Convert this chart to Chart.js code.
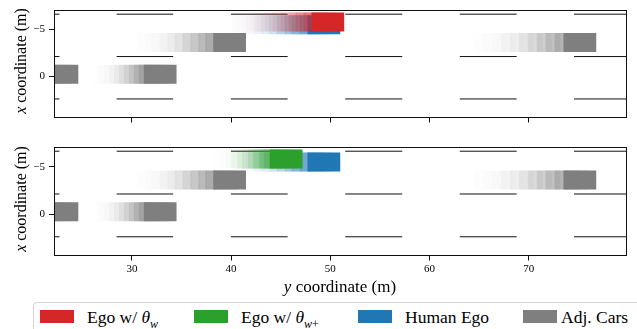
<!DOCTYPE html>
<html>
<head>
<meta charset="utf-8">
<script src="https://cdn.jsdelivr.net/npm/chart.js@4.4.0/dist/chart.umd.min.js"></script>
<style>
  html, body { margin: 0; padding: 0; background: #fff; font-family: 'Liberation Serif', serif; }
  #wrap { position: relative; width: 637px; height: 329px; overflow: hidden; color: #000; }
  canvas { position: absolute; left: 0; }
  .ytitle { position: absolute; left: 21px; font-family: 'Liberation Serif', serif; font-size: 16px; white-space: nowrap;
            transform: translate(-50%, -50%) rotate(-90deg); }
  .xtitle { position: absolute; left: 340px; top: 287px; font-family: 'Liberation Serif', serif; font-size: 17px;
            white-space: nowrap; transform: translate(-50%, -50%); }
  .legend { position: absolute; left: 33px; top: 302px; width: 640px; height: 40px;
            border: 1px solid #d4d4d4; border-radius: 4px; background: #fff; }
  .patch { position: absolute; top: 310px; width: 34px; height: 13px; }
  .lab { position: absolute; top: 306px; font-family: 'Liberation Serif', serif; font-size: 17.5px;
         line-height: 22px; white-space: nowrap; }
</style>
</head>
<body>
<div id="wrap">
  <canvas id="top" width="637" height="130" style="top:0"></canvas>
  <canvas id="bottom" width="637" height="145" style="top:137px"></canvas>
  <div class="ytitle" style="top:61px"><i>x</i> coordinate (m)</div>
  <div class="ytitle" style="top:199px"><i>x</i> coordinate (m)</div>
  <div class="xtitle"><i>y</i> coordinate (m)</div>
  <div class="legend"></div>
  <div class="patch" style="left:40px;background:#d62728"></div>
  <div class="lab" style="left:87px">Ego w/ <i>θ</i><sub style="font-size:12px"><i>w</i></sub></div>
  <div class="patch" style="left:194px;background:#2ca02c"></div>
  <div class="lab" style="left:241px">Ego w/ <i>θ</i><sub style="font-size:12px"><i>w</i>+</sub></div>
  <div class="patch" style="left:358px;background:#1f77b4"></div>
  <div class="lab" style="left:405px">Human Ego</div>
  <div class="patch" style="left:523px;background:#7f7f7f"></div>
  <div class="lab" style="left:561px">Adj. Cars</div>
</div>
<script>
// axes
const xTickValues = [30, 40, 50, 60, 70];
const yTickValues = [-5, 0];

// dashed lane markings (x coordinate of each line, y range of each dash)
const laneLineX = [-6.62, -2.12, 2.38];
const dashStart = [17.0, 28.46, 39.98, 51.5, 63.05, 74.56];
const dashEnd = [22.7, 34.16, 45.7, 57.25, 68.78, 80.3];

const carLength = 3.3;

// rear end (y coordinate) of every car at each recorded step, oldest first, last = now
const adjCarLanes = [-0.24, -0.24, -3.6, -3.6];
const adjCarSteps = [
  [14.6, 15.3, 16.0, 16.6, 17.3, 18.0, 18.6, 19.3, 20.0, 20.6, 21.3],
  [26.2, 26.7, 27.2, 27.7, 28.2, 28.7, 29.2, 29.7, 30.2, 30.7, 31.2],
  [30.5, 31.3, 32.0, 32.8, 33.6, 34.3, 35.1, 35.9, 36.7, 37.4, 38.2],
  [64.5, 65.4, 66.3, 67.2, 68.1, 69.0, 69.9, 70.8, 71.7, 72.6, 73.5]
];
const humanEgoLane = -5.49;
const humanEgoSteps = [39.9, 40.7, 41.5, 42.3, 43.0, 43.8, 44.6, 45.4, 46.1, 46.9, 47.7];
const egoWLane = -5.78;
const egoWSteps = [40.3, 41.1, 41.9, 42.6, 43.4, 44.2, 45.0, 45.8, 46.5, 47.3, 48.1];
const egoWPlusLane = -5.8;
const egoWPlusSteps = [38.3, 38.9, 39.4, 40.0, 40.6, 41.1, 41.7, 42.2, 42.8, 43.3, 43.9];

const FONT = "'Liberation Serif', serif";

// older steps fade out
function stepAlpha(k, n) {
  if (k === n - 1) return 1;
  const f = k / (n - 2);
  return 0.01 + 0.3 * f * f;
}

function carDatasets(stepsList, lanes, rgb) {
  const n = stepsList[0].length;
  const out = [];
  for (let k = 0; k < n; k++) {
    out.push({
      type: 'bar',
      indexAxis: 'y',
      grouped: false,
      barThickness: 19,
      inflateAmount: 0,
      borderWidth: 0,
      backgroundColor: 'rgba(' + rgb + ',' + stepAlpha(k, n) + ')',
      data: stepsList.map((s, i) => ({ x: [s[k], s[k] + carLength], y: lanes[i] }))
    });
  }
  return out;
}

function laneDatasets() {
  const out = [];
  laneLineX.forEach(lx => {
    dashStart.forEach((d, i) => {
      out.push({
        type: 'line',
        data: [{ x: d, y: lx }, { x: dashEnd[i], y: lx }],
        borderColor: '#111',
        borderWidth: 1,
        pointRadius: 0,
        fill: false
      });
    });
  });
  return out;
}

const frame = {
  id: 'frame',
  afterDatasetsDraw(chart) {
    const a = chart.chartArea;
    const ctx = chart.ctx;
    ctx.save();
    ctx.strokeStyle = '#111';
    ctx.lineWidth = 1;
    const l = Math.floor(a.left) + 0.5, t = Math.floor(a.top) + 0.5;
    const r = Math.floor(a.right) + 0.5, b = Math.floor(a.bottom) + 0.5;
    ctx.strokeRect(l, t, r - l, b - t);
    ctx.restore();
  }
};

function makePanel(id, egoSteps, egoLane, egoRgb, showLabels, padding, xHeight) {
  let datasets = [].concat(
    laneDatasets(),
    carDatasets(adjCarSteps, adjCarLanes, '127,127,127'),
    carDatasets([humanEgoSteps], [humanEgoLane], '31,119,180'),
    carDatasets([egoSteps], [egoLane], egoRgb)
  );
  // first in list is painted first
  datasets.forEach((d, i) => { d.order = datasets.length - i; });

  new Chart(document.getElementById(id), {
    type: 'bar',
    data: { datasets },
    options: {
      responsive: false,
      animation: false,
      devicePixelRatio: 1,
      events: [],
      layout: { padding },
      plugins: { legend: { display: false }, tooltip: { enabled: false } },
      scales: {
        x: {
          type: 'linear', min: 22.15, max: 79.8, offset: false,
          afterBuildTicks: s => { s.ticks = xTickValues.map(v => ({ value: v })); },
          afterFit: s => { s.height = xHeight; },
          grid: { drawOnChartArea: false, drawTicks: true, tickLength: 5, color: '#111', lineWidth: 1, offset: false },
          border: { display: false },
          ticks: { display: showLabels, color: '#000', padding: 2, maxRotation: 0, autoSkip: false,
                   font: { family: FONT, size: 11 } }
        },
        y: {
          type: 'linear', reverse: true, min: -7, max: 4.35, offset: false, beginAtZero: false,
          afterBuildTicks: s => { s.ticks = yTickValues.map(v => ({ value: v })); },
          afterFit: s => { s.width = 54; },
          grid: { drawOnChartArea: false, drawTicks: true, tickLength: 5, color: '#111', lineWidth: 1, offset: false },
          border: { display: false },
          ticks: { color: '#000', padding: 4, font: { family: FONT, size: 11 },
                   callback: v => (v < 0 ? '\u2212' + Math.abs(v) : String(v)) }
        }
      }
    },
    plugins: [frame]
  });
}

makePanel('top', egoWSteps, egoWLane, '214,39,40', false,
  { left: 0, top: 5, right: 11, bottom: 6.5 }, 6);
makePanel('bottom', egoWPlusSteps, egoWPlusLane, '44,160,44', true,
  { left: 0, top: 5.5, right: 11, bottom: 0 }, 26.5);
</script>
</body>
</html>
